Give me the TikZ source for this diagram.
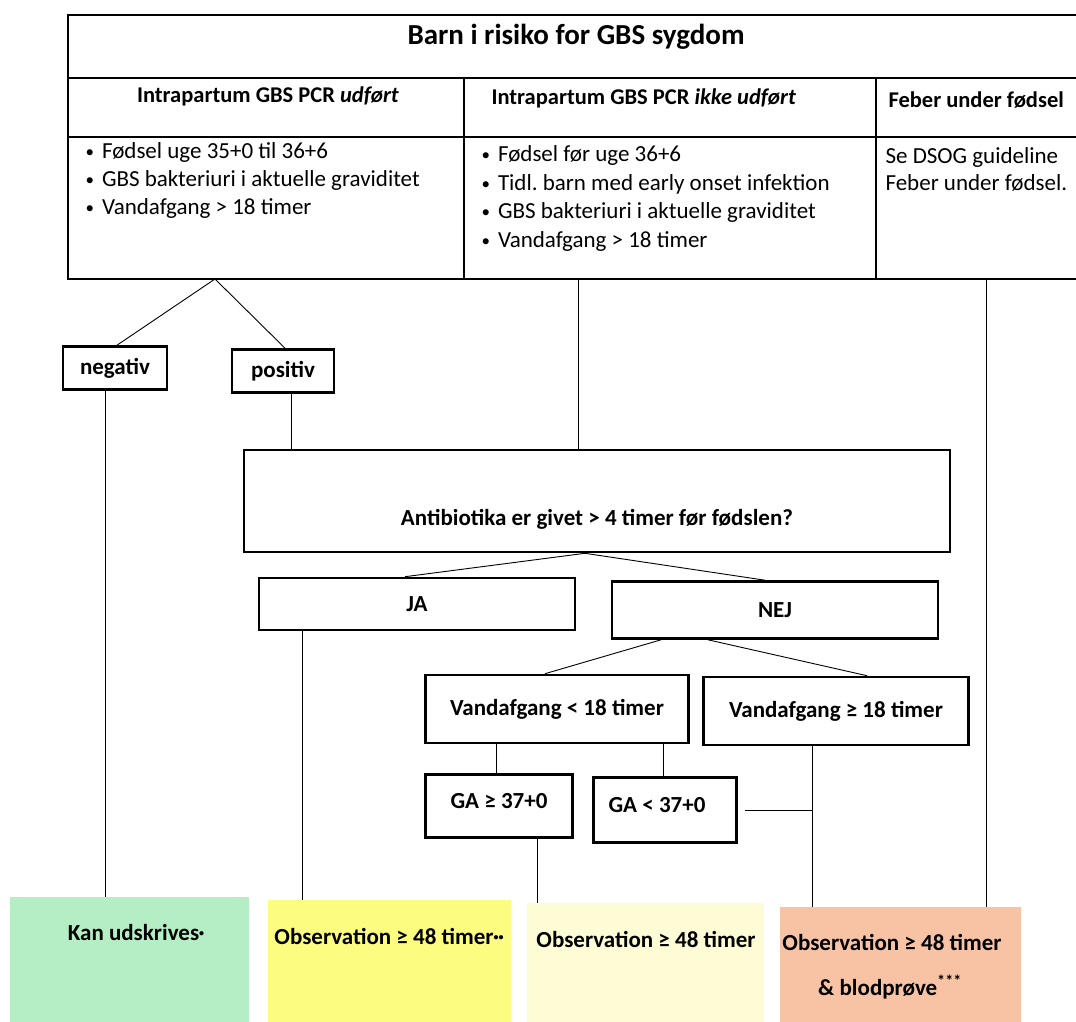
\documentclass[tikz,border=0pt]{standalone}
\usepackage{fontspec}
\setmainfont{Carlito}
\usepackage{tikz}
\definecolor{gruen}{RGB}{181,238,196}
\definecolor{gul}{RGB}{252,252,128}
\definecolor{lysgul}{RGB}{253,252,212}
\definecolor{orange}{RGB}{248,194,164}
\newcommand{\prik}{\raisebox{4pt}{\fontsize{10}{10}\selectfont•}}
\newcommand{\punkt}{\raisebox{1pt}{\fontsize{17}{17}\selectfont•}\hspace{8pt}}
\begin{document}
\begin{tikzpicture}[x=1pt,y=-1pt,
        box/.style={draw, line width=2.6pt, font=\bfseries\fontsize{23}{26}\selectfont, inner sep=0pt},
        result/.style={fill=#1, anchor=north west, inner sep=0pt},
        restext/.style={font=\bfseries\fontsize{23}{26}\selectfont},
        tab/.style={line width=2.2pt},
        conn/.style={draw, line width=0.9pt, -}]
        \clip (0,0) rectangle (1076,1022);

        % table
        \draw[tab] (1090,15) -- (68,15) -- (68,279) -- (1090,279);
        \draw[tab] (68,78) -- (1090,78);
        \draw[tab] (68,137) -- (1090,137);
        \draw[tab] (464,78) -- (464,279);
        \draw[tab] (876,78) -- (876,279);

        \node[font=\bfseries\fontsize{29}{34}\selectfont] (titel) at (576,37) {Barn i risiko for GBS sygdom};
        \node[font=\bfseries\fontsize{22.5}{26}\selectfont] (h1) at (268,96) {Intrapartum GBS PCR \textit{udført}};
        \node[font=\bfseries\fontsize{22.5}{26}\selectfont, anchor=west] (h2) at (488,98) {Intrapartum GBS PCR \textit{ikke udført}};
        \node[font=\bfseries\fontsize{22.5}{26}\selectfont, anchor=west] (h3) at (885,100) {Feber under fødsel};

        \node[anchor=north west, align=left, font=\fontsize{23}{28}\selectfont] (k1) at (82,139)
            {\punkt Fødsel uge 35+0 til 36+6\\ \punkt GBS bakteriuri i aktuelle graviditet\\ \punkt Vandafgang > 18 timer};
        \node[anchor=north west, align=left, font=\fontsize{23}{28.7}\selectfont] (k2) at (478,142)
            {\punkt Fødsel før uge 36+6\\ \punkt Tidl.\ barn med early onset infektion\\ \punkt GBS bakteriuri i aktuelle graviditet\\ \punkt Vandafgang > 18 timer};
        \node[anchor=north west, align=left, font=\fontsize{23}{27}\selectfont] (k3) at (882,144)
            {Se DSOG guideline\\ Feber under fødsel.};

        \coordinate (t1) at (215,279);
        \coordinate (t2) at (578,279);
        \coordinate (t3) at (986,279);

        % boxes
        \node[box, minimum width=104, minimum height=43] (neg) at (115,368) {negativ};
        \node[box, minimum width=102, minimum height=43] (pos) at (283,371) {positiv};
        \node[box, minimum width=706, minimum height=102, text height=52pt, text depth=4pt] (ab) at (597,501) {Antibiotika er givet > 4 timer før fødslen?};
        \node[box, minimum width=316, minimum height=52] (ja) at (417,604) {JA};
        \node[box, minimum width=326, minimum height=57] (nej) at (775,610) {NEJ};
        \node[box, minimum width=263, minimum height=68] (v1) at (557,709) {Vandafgang < 18 timer};
        \node[box, minimum width=265, minimum height=68] (v2) at (836,711) {Vandafgang ≥ 18 timer};
        \node[box, minimum width=147, minimum height=63, text height=24pt, text depth=20pt] (ga1) at (499,806) {GA ≥ 37+0};
        \node[box, minimum width=143, minimum height=65, text height=24pt, text depth=20pt] (ga2) at (665,810) {\hspace{-16pt}GA < 37+0};

        % results
        \node[result=gruen, minimum width=239, minimum height=130] (r1) at (10,897) {};
        \node[result=gul, minimum width=243, minimum height=130] (r2) at (268,900) {};
        \node[result=lysgul, minimum width=237, minimum height=130] (r3) at (527,903) {};
        \node[result=orange, minimum width=241, minimum height=130] (r4) at (780,907) {};
        \node[restext] (r1t) at (136,933) {Kan udskrives\prik};
        \node[restext] (r2t) at (389,936) {Observation ≥ 48 timer\prik\prik};
        \node[restext] (r3t) at (646,939) {Observation ≥ 48 timer};
        \node[restext] (r4t) at (892,942) {Observation ≥ 48 timer};
        \node[restext] (r4u) at (890,987) {\& blodprøve\textsuperscript{***}};

        % connectors
        \path[conn] (t1) -- ([xshift=2pt]neg.north);
        \path[conn] (t1) -- ([xshift=2pt]pos.north);
        \path[conn] ([xshift=-10pt]neg.south) -- ([xshift=-10pt]neg.south |- r1.north);
        \path[conn] ([xshift=8pt]pos.south) -- ([xshift=8pt]pos.south |- ab.north);
        \path[conn] (t2) -- (t2 |- ab.north);
        \path[conn] (t3) -- (t3 |- r4.north);
        \path[conn] ([xshift=-12pt]ab.south) -- ([xshift=-12pt]ja.north);
        \path[conn] ([xshift=-12pt]ab.south) -- ([xshift=-10pt]nej.north);
        \path[conn] ([xshift=-115pt]ja.south) -- ([xshift=-115pt]ja.south |- r2.north);
        \path[conn] ([xshift=-114pt]nej.south) -- ([xshift=-12pt]v1.north);
        \path[conn] ([xshift=-67pt]nej.south) -- ([xshift=31pt]v2.north);
        \path[conn] ([xshift=-61pt]v1.south) -- ([xshift=-61pt]v1.south |- ga1.north);
        \path[conn] ([xshift=106pt]v1.south) -- ([xshift=106pt]v1.south |- ga2.north);
        \path[conn] ([xshift=38pt]ga1.south) -- ([xshift=38pt]ga1.south |- r3.north);
        \path[conn] ([xshift=-24pt]v2.south) -- ([xshift=-24pt]v2.south |- r4.north);
        \path[conn] ([xshift=7pt]ga2.east) -- ([xshift=-24pt]v2.south |- ga2.east);
\end{tikzpicture}
\end{document}
